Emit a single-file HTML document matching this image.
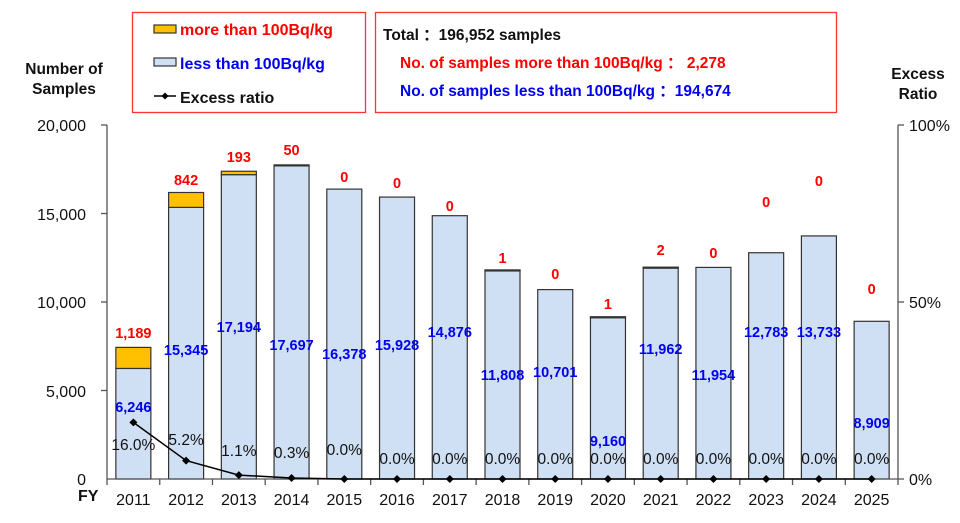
<!DOCTYPE html>
<html><head><meta charset="utf-8"><style>
html,body{margin:0;padding:0;background:#fff}
svg{display:block;font-family:"Liberation Sans",sans-serif}
.b{font-weight:bold}
</style></head><body>
<svg width="960" height="523" viewBox="0 0 960 523" xmlns="http://www.w3.org/2000/svg">
<rect x="132.5" y="12.5" width="233" height="100" fill="none" stroke="#f33" stroke-width="1.3"/>
<rect x="154" y="25" width="22" height="8" fill="#ffc000" stroke="#333" stroke-width="1.2"/>
<text x="180" y="35" fill="#ff0000" class="b" font-size="16">more than 100Bq/kg</text>
<rect x="154" y="58" width="22" height="8" fill="#d0e0f4" stroke="#333" stroke-width="1.2"/>
<text x="180" y="69" fill="#0000ee" class="b" font-size="16">less than 100Bq/kg</text>
<line x1="154" y1="96" x2="176" y2="96" stroke="#000" stroke-width="1.5"/>
<path d="M165 92.5 L168.5 96 L165 99.5 L161.5 96Z" fill="#000"/>
<text x="180" y="103" fill="#111" class="b" font-size="16">Excess ratio</text>

<rect x="375.5" y="12.5" width="461" height="100" fill="none" stroke="#f33" stroke-width="1.3"/>
<text x="383" y="40" fill="#111" class="b" font-size="15.5">Total ：196,952 samples</text>
<text x="400" y="68" fill="#ff0000" class="b" font-size="15.5">No. of samples more than 100Bq/kg ：  2,278</text>
<text x="400" y="96" fill="#0000ee" class="b" font-size="15.5">No. of samples less than 100Bq/kg  ：194,674</text>

<text x="64" y="74" text-anchor="middle" class="b" font-size="15.5" fill="#111">Number of</text>
<text x="64" y="94" text-anchor="middle" class="b" font-size="15.5" fill="#111">Samples</text>
<text x="918" y="79" text-anchor="middle" class="b" font-size="15.5" fill="#111">Excess</text>
<text x="918" y="99" text-anchor="middle" class="b" font-size="15.5" fill="#111">Ratio</text>

<g stroke="#555" stroke-width="1.3" fill="none">
<line x1="107" y1="125" x2="107" y2="479"/>
<line x1="101" y1="125" x2="107" y2="125"/><line x1="101" y1="213.5" x2="107" y2="213.5"/>
<line x1="101" y1="302" x2="107" y2="302"/><line x1="101" y1="390.5" x2="107" y2="390.5"/>
<line x1="898" y1="125" x2="898" y2="479"/>
<line x1="898" y1="125" x2="904" y2="125"/><line x1="898" y1="302" x2="904" y2="302"/><line x1="898" y1="479" x2="904" y2="479"/>
</g>
<g font-size="16" fill="#111" text-anchor="end">
<text x="86" y="131">20,000</text><text x="86" y="220">15,000</text><text x="86" y="308">10,000</text>
<text x="86" y="397">5,000</text><text x="86" y="485">0</text>
</g>
<g font-size="16" fill="#111">
<text x="909" y="131">100%</text><text x="909" y="308">50%</text><text x="909" y="485">0%</text>
</g>
<text x="78" y="501" class="b" font-size="16" fill="#111">FY</text>

<g id="bars"></g>
<line x1="107" y1="479" x2="898" y2="479" stroke="#555" stroke-width="1.3"/>
<g id="ticks" stroke="#555" stroke-width="1.3"></g>
<g id="labels"></g>
</svg>
<script>
var less=[6246,15345,17194,17697,16378,15928,14876,11808,10701,9160,11962,11954,12783,13733,8909];
var more=[1189,842,193,50,0,0,0,1,0,1,2,0,0,0,0];
var redY=[333,180,157,150,177,183,206,258,274,304,250,253,202,181,289];
var blueY=[407,350,327,345,354,345,332,375,372,441,349,375,332,332,423];
var pct=["16.0%","5.2%","1.1%","0.3%","0.0%","0.0%","0.0%","0.0%","0.0%","0.0%","0.0%","0.0%","0.0%","0.0%","0.0%"];
var pctV=[16,5.2,1.1,0.3,0,0,0,0,0,0,0,0,0,0,0];
var pctY=[445,440,451,453,450,459,459,459,459,459,459,459,459,459,459];
var ns="http://www.w3.org/2000/svg";
function el(t,a,p,txt){var e=document.createElementNS(ns,t);for(var k in a)e.setAttribute(k,a[k]);if(txt)e.textContent=txt;document.getElementById(p).appendChild(e);return e;}
var s=354/20000,step=791/15,pts=[];
function fmt(n){return n.toLocaleString("en-US");}
for(var i=0;i<15;i++){
 var cx=107+step*(i+0.5),w=35,x=cx-w/2;
 var hl=less[i]*s,hm=more[i]*s;
 el("rect",{x:x,y:479-hl,width:w,height:hl,fill:"#d0e0f4",stroke:"#333","stroke-width":1.2},"bars");
 if(more[i]>0) el("rect",{x:x,y:479-hl-hm,width:w,height:Math.max(hm,1),fill:more[i]>60?"#ffc000":"#333",stroke:"#333","stroke-width":1.2},"bars");
 el("line",{x1:107+step*i,y1:479,x2:107+step*i,y2:485},"ticks");
 el("text",{x:cx,y:redY[i]+5,"text-anchor":"middle",fill:"#ff0000","font-size":14.5,"font-weight":"bold"},"labels",fmt(more[i]));
 el("text",{x:cx,y:blueY[i]+5,"text-anchor":"middle",fill:"#0000ee","font-size":14.5,"font-weight":"bold"},"labels",fmt(less[i]));
 el("text",{x:cx,y:pctY[i]+5,"text-anchor":"middle",fill:"#111","font-size":15.5},"labels",pct[i]);
 el("text",{x:cx,y:505,"text-anchor":"middle",fill:"#111","font-size":16},"labels",String(2011+i));
 pts.push([cx,479-pctV[i]*3.54]);
}
el("line",{x1:898,y1:479,x2:898,y2:485},"ticks");
el("polyline",{points:pts.map(function(p){return p.join(",")}).join(" "),fill:"none",stroke:"#000","stroke-width":1.5},"labels");
pts.forEach(function(p){el("path",{d:"M"+p[0]+" "+(p[1]-4)+"L"+(p[0]+4)+" "+p[1]+"L"+p[0]+" "+(p[1]+4)+"L"+(p[0]-4)+" "+p[1]+"Z",fill:"#000"},"labels");});
</script>
</body></html>
